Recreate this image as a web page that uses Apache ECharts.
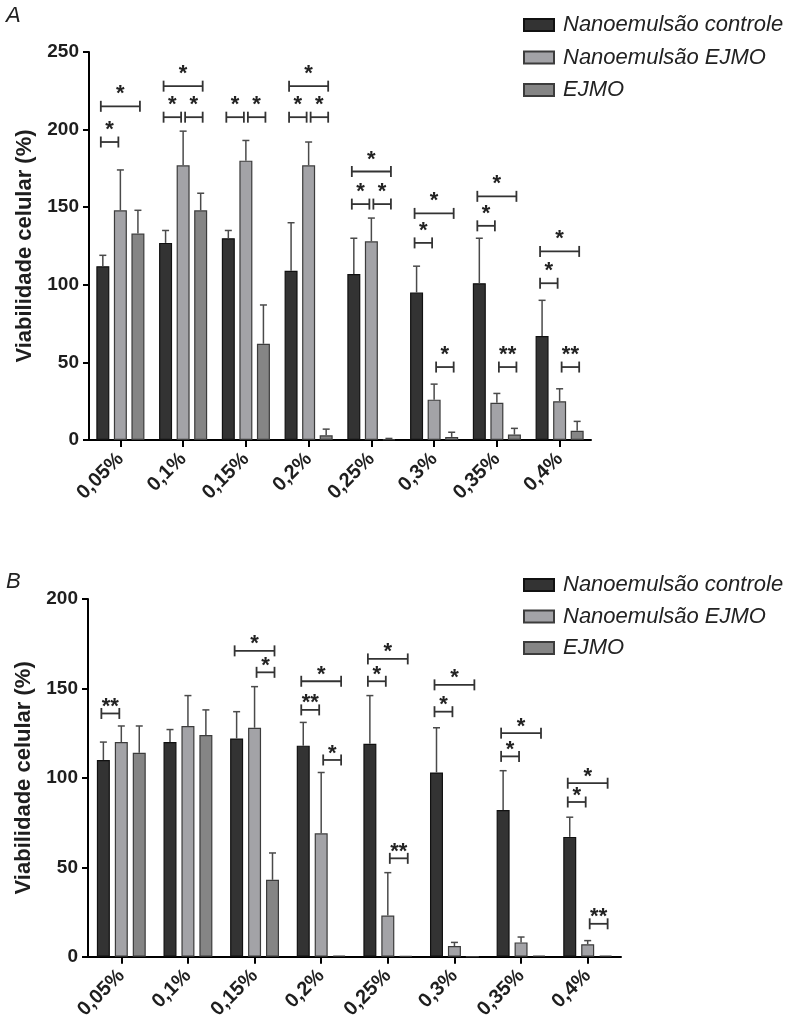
<!DOCTYPE html>
<html>
<head>
<meta charset="utf-8">
<script src="https://cdn.jsdelivr.net/npm/echarts@6/dist/echarts.min.js"></script>
<style>
  html, body { margin: 0; padding: 0; background: #ffffff; }
  #chart { width: 789px; height: 1022px; }
</style>
</head>
<body>
<div id="chart"></div>
<script>
// Concentrations tested
const categories = ['0,05%', '0,1%', '0,15%', '0,2%', '0,25%', '0,3%', '0,35%', '0,4%'];
const seriesNames = ['Nanoemulsão controle', 'Nanoemulsão EJMO', 'EJMO'];

// Panel A: cell viability (%) mean and upper error
const controleA    = [112, 127, 130, 109, 107, 95, 101, 67];
const controleAErr = [7, 8, 5, 31, 23, 17, 29, 23];
const nanoEjmoA    = [148, 177, 180, 177, 128, 26, 24, 25];
const nanoEjmoAErr = [26, 22, 13, 15, 15, 10, 6, 8];
const ejmoA        = [133, 148, 62, 3, 0.6, 2, 3.5, 6];
const ejmoAErr     = [15, 11, 25, 4, 0.4, 3, 4, 6];

// Panel B: cell viability (%) mean and upper error
const controleB    = [110, 120, 122, 118, 119, 103, 82, 67];
const controleBErr = [10, 7, 15, 13, 27, 25, 22, 11];
const nanoEjmoB    = [120, 129, 128, 69, 23, 6, 8, 7];
const nanoEjmoBErr = [9, 17, 23, 34, 24, 2, 3, 2];
const ejmoB        = [114, 124, 43, 0.6, 0.4, 0, 0.6, 0.6];
const ejmoBErr     = [15, 14, 15, 0, 0, 0, 0, 0];

// Significance brackets: [category index, level (%), first bar, last bar, mark]
const bracketsA = [
  [0, 192, 0, 1, '*'], [0, 215, 0, 2, '*'],
  [1, 208, 0, 1, '*'], [1, 208, 1, 2, '*'], [1, 228, 0, 2, '*'],
  [2, 208, 0, 1, '*'], [2, 208, 1, 2, '*'],
  [3, 208, 0, 1, '*'], [3, 208, 1, 2, '*'], [3, 228, 0, 2, '*'],
  [4, 152, 0, 1, '*'], [4, 152, 1, 2, '*'], [4, 173, 0, 2, '*'],
  [5, 127, 0, 1, '*'], [5, 146, 0, 2, '*'], [5, 47, 1, 2, '*'],
  [6, 138, 0, 1, '*'], [6, 157, 0, 2, '*'], [6, 47, 1, 2, '**'],
  [7, 101, 0, 1, '*'], [7, 121.5, 0, 2, '*'], [7, 47, 1, 2, '**']
];
const bracketsB = [
  [0, 136, 0, 1, '**'],
  [2, 171, 0, 2, '*'], [2, 159, 1, 2, '*'],
  [3, 138, 0, 1, '**'], [3, 154, 0, 2, '*'], [3, 110, 1, 2, '*'],
  [4, 154, 0, 1, '*'], [4, 166.5, 0, 2, '*'], [4, 55, 1, 2, '**'],
  [5, 137, 0, 1, '*'], [5, 152, 0, 2, '*'],
  [6, 112, 0, 1, '*'], [6, 125, 0, 2, '*'],
  [7, 86.5, 0, 1, '*'], [7, 97, 0, 2, '*'], [7, 18.4, 1, 2, '**']
];

const BAR_W = 13;
const fills   = ['#333333', '#a3a3a7', '#858585'];
const borders = ['#111111', '#3c3c3c', '#3c3c3c'];
const inkColor = '#1e1e1e';
const FONT = '"Liberation Sans", Arial, Helvetica, sans-serif';

function barSeries(idx, values, axis, gap) {
  return {
    type: 'bar',
    name: seriesNames[idx],
    xAxisIndex: axis,
    yAxisIndex: axis,
    data: values,
    barWidth: BAR_W,
    barGap: gap,
    itemStyle: { color: fills[idx], borderColor: borders[idx], borderWidth: 1.2 },
    emphasis: { disabled: true },
    z: 2
  };
}

function errorSeries(idx, values, errors, axis, slot) {
  return {
    type: 'custom',
    xAxisIndex: axis,
    yAxisIndex: axis,
    silent: true,
    z: 3,
    encode: { x: 0, y: 1 },
    data: values.map((v, i) => [i, v, v + errors[i]]),
    renderItem(params, api) {
      const i = api.value(0);
      const lo = api.coord([i, api.value(1)]);
      const hi = api.coord([i, api.value(2)]);
      const x = lo[0] + (idx - 1) * slot;
      if (hi[1] >= lo[1] - 0.5) return null;
      const st = { stroke: '#4a4a4a', lineWidth: 1.5 };
      return {
        type: 'group',
        children: [
          { type: 'line', shape: { x1: x, y1: lo[1], x2: x, y2: hi[1] }, style: st },
          { type: 'line', shape: { x1: x - 3.5, y1: hi[1], x2: x + 3.5, y2: hi[1] }, style: st }
        ]
      };
    }
  };
}

// starLift: distance (px) from bracket line to the centre of the mark's text box
function bracketSeries(list, axis, slot, starLift) {
  return {
    type: 'custom',
    xAxisIndex: axis,
    yAxisIndex: axis,
    silent: true,
    z: 4,
    encode: { x: 0, y: 1 },
    data: list.map(b => [b[0], b[1]]),
    renderItem(params, api) {
      const b = list[params.dataIndex];
      const c = api.coord([b[0], b[1]]);
      const x1 = c[0] + (b[2] - 1) * slot + (b[2] === 0 ? -2 : 2);
      const x2 = c[0] + (b[3] - 1) * slot + (b[3] === 2 ? 2 : -2);
      const y = c[1];
      const st = { stroke: '#333333', lineWidth: 1.8 };
      return {
        type: 'group',
        children: [
          { type: 'line', shape: { x1: x1, y1: y, x2: x2, y2: y }, style: st },
          { type: 'line', shape: { x1: x1, y1: y - 5.5, x2: x1, y2: y + 5.5 }, style: st },
          { type: 'line', shape: { x1: x2, y1: y - 5.5, x2: x2, y2: y + 5.5 }, style: st },
          {
            type: 'text',
            x: (x1 + x2) / 2,
            y: y - starLift,
            style: {
              text: b[4],
              fill: '#222222',
              font: 'bold 22px ' + FONT,
              textAlign: 'center',
              textVerticalAlign: 'middle'
            }
          }
        ]
      };
    }
  };
}

function xAxisFor(grid) {
  return {
    type: 'category',
    gridIndex: grid,
    data: categories,
    axisLine: { show: true, lineStyle: { color: '#000', width: 2 } },
    axisTick: { show: true, alignWithLabel: true, length: 7, lineStyle: { color: '#000', width: 2 } },
    axisLabel: {
      interval: 0, rotate: 45, margin: 16,
      fontFamily: FONT, fontWeight: 'bold', fontSize: 20, color: inkColor
    },
    splitLine: { show: false }
  };
}

function yAxisFor(grid, max) {
  return {
    type: 'value',
    gridIndex: grid,
    min: 0, max: max, interval: 50,
    name: 'Viabilidade celular (%)',
    nameLocation: 'middle',
    nameGap: 51,
    nameRotate: 90,
    nameTextStyle: { fontFamily: FONT, fontWeight: 'bold', fontSize: 22, color: inkColor },
    axisLine: { show: true, lineStyle: { color: '#000', width: 2 } },
    axisTick: { show: true, length: 6, lineStyle: { color: '#000', width: 2 } },
    axisLabel: { margin: 10, fontFamily: FONT, fontWeight: 'bold', fontSize: 19, color: inkColor },
    splitLine: { show: false }
  };
}

function legendAt(top, gap) {
  return {
    orient: 'vertical',
    left: 518,
    top: top,
    data: seriesNames,
    icon: 'rect',
    itemWidth: 30,
    itemHeight: 12,
    itemGap: gap,
    selectedMode: false,
    textStyle: {
      fontFamily: FONT, fontStyle: 'italic', fontSize: 22, lineHeight: 22,
      color: '#222222', padding: [0, 0, 0, 4]
    }
  };
}

const slotA = BAR_W * 1.35;
const slotB = BAR_W * 1.38;

const option = {
  backgroundColor: '#ffffff',
  animation: false,
  grid: [
    { left: 89, top: 52, width: 502, height: 388 },
    { left: 88, top: 599, width: 533, height: 360 }
  ],
  xAxis: [xAxisFor(0), xAxisFor(1)],
  yAxis: [yAxisFor(0, 250), yAxisFor(1, 200)],
  legend: [legendAt(9, 10.5), legendAt(569, 9.5)],
  graphic: [
    { type: 'text', left: 6, top: 5, style: { text: 'A', font: 'italic 22px ' + FONT, fill: '#222' } },
    { type: 'text', left: 6, top: 571, style: { text: 'B', font: 'italic 22px ' + FONT, fill: '#222' } }
  ],
  series: [
    barSeries(0, controleA, 0, '35%'),
    barSeries(1, nanoEjmoA, 0, '35%'),
    barSeries(2, ejmoA, 0, '35%'),
    errorSeries(0, controleA, controleAErr, 0, slotA),
    errorSeries(1, nanoEjmoA, nanoEjmoAErr, 0, slotA),
    errorSeries(2, ejmoA, ejmoAErr, 0, slotA),
    bracketSeries(bracketsA, 0, slotA, 12),

    barSeries(0, controleB, 1, '38%'),
    barSeries(1, nanoEjmoB, 1, '38%'),
    barSeries(2, ejmoB, 1, '38%'),
    errorSeries(0, controleB, controleBErr, 1, slotB),
    errorSeries(1, nanoEjmoB, nanoEjmoBErr, 1, slotB),
    errorSeries(2, ejmoB, ejmoBErr, 1, slotB),
    bracketSeries(bracketsB, 1, slotB, 6.5)
  ]
};

const chart = echarts.init(document.getElementById('chart'), null, { renderer: 'canvas' });
chart.setOption(option);
</script>
</body>
</html>
